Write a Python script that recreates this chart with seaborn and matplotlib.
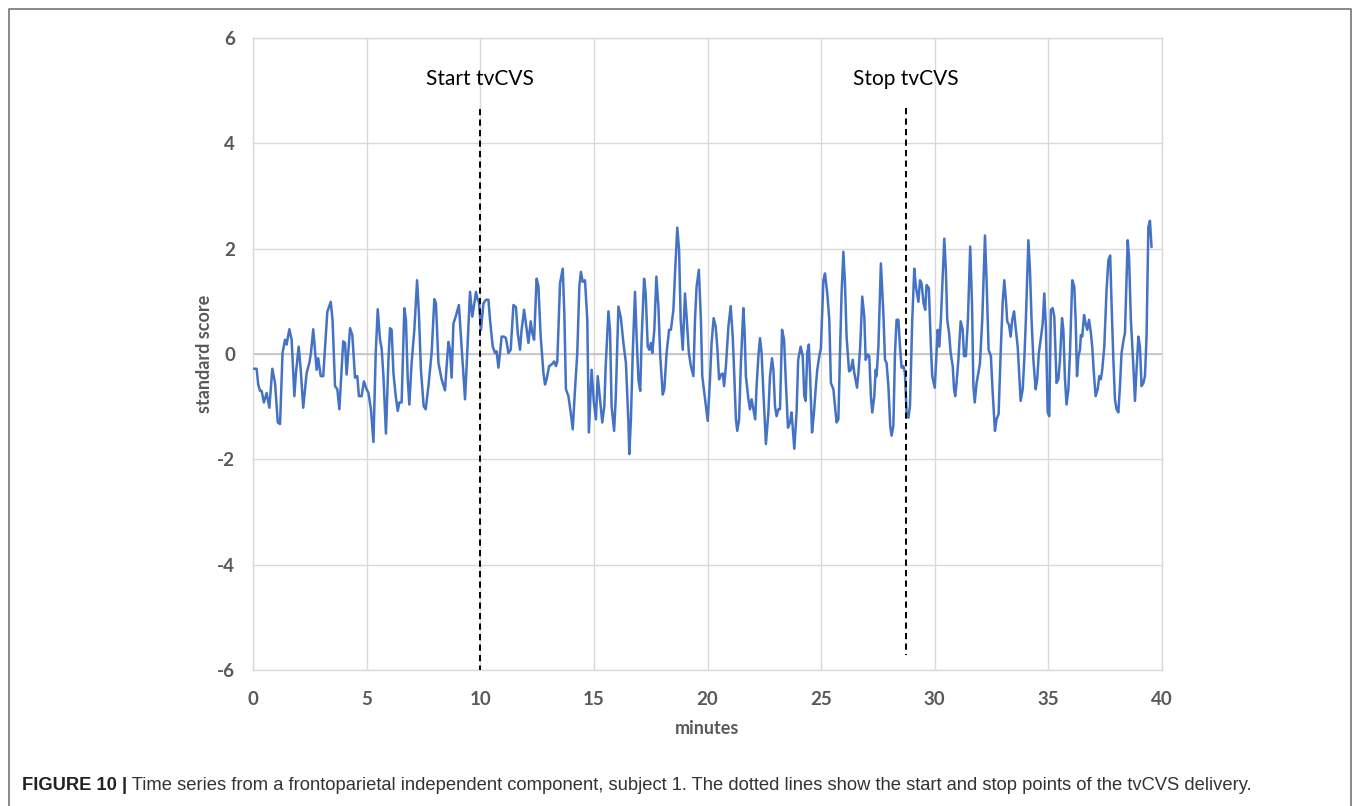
import matplotlib
matplotlib.use("Agg")
import matplotlib.pyplot as plt
from matplotlib.lines import Line2D
import numpy as np
import pandas as pd
import seaborn as sns

# Time series of the frontoparietal independent component (subject 1)
minutes = [
    0.04, 0.16, 0.23, 0.31, 0.38, 0.48, 0.60, 0.72, 0.85, 0.97, 1.09, 1.19, 1.30, 1.41, 1.48, 1.60,
    1.70, 1.82, 1.89, 2.01, 2.10, 2.21, 2.36, 2.48, 2.55, 2.65, 2.80, 2.87, 2.98, 3.09, 3.27, 3.42,
    3.50, 3.61, 3.71, 3.80, 3.97, 4.05, 4.12, 4.27, 4.37, 4.49, 4.59, 4.66, 4.78, 4.88, 5.00,
    5.08, 5.19, 5.30, 5.40, 5.49, 5.59, 5.66, 5.74, 5.85, 5.96, 6.03, 6.10, 6.18, 6.28, 6.37, 6.44,
    6.54, 6.66, 6.73, 6.81, 6.88, 6.98, 7.10, 7.22, 7.30, 7.39, 7.51, 7.60, 7.72, 7.86, 7.98, 8.05,
    8.16, 8.30, 8.45, 8.52, 8.60, 8.67, 8.74, 8.82, 8.92, 9.06, 9.18, 9.33, 9.40, 9.55, 9.65, 9.74,
    9.81, 9.89, 9.94, 10.03, 10.14,
    10.25, 10.36, 10.43, 10.55, 10.65, 10.72, 10.80, 10.87, 10.94, 11.05, 11.13, 11.24, 11.34, 11.46,
    11.57, 11.65, 11.75, 11.82, 11.93, 12.01, 12.12, 12.22, 12.29, 12.37, 12.48, 12.56, 12.66, 12.78,
    12.85, 12.92, 13.03, 13.14, 13.25, 13.33, 13.39, 13.51, 13.63, 13.70, 13.77, 13.88, 13.98, 14.07,
    14.17, 14.27, 14.36, 14.43, 14.51, 14.61, 14.71, 14.78, 14.90, 15.00, 15.09,
    15.17, 15.27, 15.37, 15.46, 15.52, 15.64, 15.71, 15.78, 15.89, 15.96, 16.08, 16.19, 16.30, 16.41,
    16.52, 16.56, 16.63, 16.71, 16.81, 16.88, 16.96, 17.04, 17.10, 17.21, 17.28, 17.37, 17.44, 17.51,
    17.57, 17.66, 17.75, 17.84, 17.92, 18.03, 18.10, 18.20, 18.31, 18.39, 18.50, 18.57, 18.67, 18.75,
    18.82, 18.91, 19.01, 19.08, 19.18, 19.27, 19.38, 19.45, 19.52, 19.62, 19.71, 19.77, 19.86, 19.93,
    20.01, 20.11, 20.18, 20.27,
    20.36, 20.43, 20.51, 20.59, 20.67, 20.73, 20.81, 20.92, 21.02, 21.11, 21.18, 21.25, 21.31, 21.39,
    21.47, 21.58, 21.63, 21.69, 21.80, 21.87, 21.94, 22.02, 22.10, 22.16, 22.24, 22.31, 22.38, 22.46,
    22.57, 22.68, 22.75, 22.84, 22.90, 22.97, 23.04, 23.12, 23.19, 23.28, 23.37, 23.45, 23.54, 23.63,
    23.70, 23.82, 23.92, 23.99, 24.10, 24.19, 24.26, 24.32, 24.39, 24.46, 24.51, 24.60, 24.68, 24.77,
    24.83, 24.92, 24.99, 25.10, 25.17, 25.27,
    25.36, 25.43, 25.54, 25.61, 25.68, 25.76, 25.83, 25.90, 25.98, 26.05, 26.12, 26.23, 26.31, 26.39,
    26.46, 26.58, 26.64, 26.72, 26.81, 26.90, 26.96, 27.05, 27.12, 27.19, 27.25, 27.34, 27.40, 27.44,
    27.52, 27.63, 27.74, 27.81, 27.88, 27.96, 28.04, 28.10, 28.18, 28.25, 28.32, 28.40, 28.47, 28.54,
    28.62, 28.69, 28.76, 28.84, 28.91, 29.01, 29.10, 29.17, 29.28, 29.35, 29.42, 29.51, 29.58, 29.64,
    29.74, 29.83, 29.89, 30.00, 30.13, 30.20, 30.27,
    30.42, 30.49, 30.55, 30.63, 30.70, 30.79, 30.85, 30.90, 30.96, 31.04, 31.14, 31.23, 31.29, 31.37,
    31.46, 31.56, 31.64, 31.70, 31.76, 31.84, 31.92, 31.99, 32.09, 32.21, 32.28, 32.37, 32.47, 32.55,
    32.65, 32.72, 32.81, 32.90, 32.99, 33.06, 33.13, 33.19, 33.27, 33.34, 33.41, 33.49, 33.57, 33.65,
    33.72, 33.78, 33.87, 33.94, 34.01, 34.12, 34.19, 34.26, 34.34, 34.44, 34.51, 34.58, 34.66, 34.75,
    34.82, 34.89, 34.97, 35.04, 35.11, 35.19, 35.26,
    35.36, 35.44, 35.51, 35.60, 35.66, 35.73, 35.80, 35.88, 35.95, 36.05, 36.14, 36.20, 36.26, 36.32,
    36.39, 36.43, 36.49, 36.57, 36.64, 36.71, 36.79, 36.87, 36.93, 37.01, 37.08, 37.17, 37.24, 37.31,
    37.37, 37.46, 37.56, 37.64, 37.72, 37.78, 37.86, 37.93, 38.00, 38.08, 38.15, 38.22, 38.31, 38.37,
    38.43, 38.49, 38.55, 38.63, 38.74, 38.81, 38.88, 38.96, 39.03, 39.10, 39.18, 39.25, 39.32, 39.40,
    39.47, 39.54,
]
score = [
    -0.28, -0.28, -0.58, -0.70, -0.70, -0.92, -0.74, -1.02, -0.28, -0.55, -1.30, -1.33, 0.02, 0.27, 0.18, 0.47,
    0.27, -0.80, -0.36, 0.14, -0.30, -1.02, -0.36, -0.17, 0.02, 0.47, -0.30, -0.08, -0.42, -0.42, 0.80, 0.99,
    0.65, -0.61, -0.67, -1.05, 0.24, 0.21, -0.39, 0.49, 0.36, -0.45, -0.42, -0.80, -0.80, -0.52, -0.67,
    -0.74, -1.05, -1.67, 0.02, 0.85, 0.27, 0.11, -0.42, -1.51, -0.11, 0.49, 0.46, -0.36, -0.80, -1.08, -0.92,
    -0.92, 0.87, 0.65, -0.48, -0.96, -0.17, 0.46, 1.40, 0.77, -0.30, -0.99, -1.05, -0.61, 0.02, 1.04, 0.96,
    -0.17, -0.48, -0.69, -0.23, 0.23, 0.08, -0.45, 0.58, 0.71, 0.93, 0.14, -0.86, -0.23, 1.18, 0.71, 0.96,
    1.18, 1.03, 0.99, 0.46, 0.96,
    1.03, 1.03, 0.65, 0.14, 0.02, 0.05, -0.26, 0.02, 0.33, 0.33, 0.30, 0.02, 0.08, 0.93,
    0.89, 0.40, 0.08, 0.46, 0.84, 0.58, 0.21, 0.62, 0.40, 0.27, 1.43, 1.28, 0.33, -0.36,
    -0.58, -0.48, -0.23, -0.20, -0.14, -0.23, -0.14, 1.34, 1.62, 0.77, -0.67, -0.80, -1.11, -1.43,
    -0.67, 0.02, 1.28, 1.56, 1.37, 1.40, 0.65, -1.49, -0.30, -0.92, -1.24,
    -0.42, -0.86, -1.30, -0.99, -0.23, 0.81, 0.46, -0.99, -1.46, -0.86, 0.90, 0.68, 0.21, -0.17,
    -1.30, -1.90, -1.24, 0.02, 1.18, 0.33, -0.48, -0.70, 0.27, 1.43, 1.15, 0.14, 0.08, 0.21,
    0.02, 0.46, 1.47, 0.90, -0.04, -0.77, -0.67, 0.02, 0.46, 0.46, 0.84, 1.53, 2.40, 1.97,
    0.65, 0.08, 1.15, 0.71, 0.02, -0.23, -0.42, 0.65, 1.28, 1.60, 0.65, -0.42, -0.74, -0.99,
    -1.27, -0.48, 0.21, 0.68,
    0.52, 0.14, -0.48, -0.39, -0.37, -0.61, -0.23, 0.52, 0.91, 0.33, -0.42, -1.24, -1.46, -1.24,
    -0.17, 0.87, 0.46, -0.42, -0.86, -1.05, -0.86, -1.05, -1.24, -0.61, -0.04, 0.30, 0.02, -0.74,
    -1.71, -1.11, -0.42, -0.08, -0.30, -0.99, -1.18, -1.05, -1.05, 0.46, 0.27, -0.55, -1.40, -1.30,
    -1.11, -1.80, -1.11, -0.11, 0.14, -0.04, -0.80, -0.89, 0.02, 0.18, -0.36, -1.49, -1.14, -0.61,
    -0.30, -0.04, 0.11, 1.40, 1.53, 1.15,
    0.65, -0.55, -0.67, -0.99, -1.30, -1.24, 0.02, 1.15, 1.94, 1.34, 0.33, -0.33, -0.30, -0.11,
    -0.36, -0.64, -0.36, 0.14, 1.09, 0.71, -0.11, -0.01, -0.04, -0.80, -1.11, -0.80, -0.30, -0.42,
    0.14, 1.72, 0.77, -0.11, -0.17, -0.61, -1.36, -1.55, -1.36, 0.02, 0.65, 0.65, 0.14, -0.26,
    -0.23, -0.36, -1.11, -1.21, -0.99, 0.65, 1.62, 1.28, 0.99, 1.40, 1.34, 0.96, 0.84, 1.31,
    1.25, 0.14, -0.42, -0.64, 0.46, 0.14, 0.65,
    2.19, 1.59, 0.65, 0.40, 0.02, -0.23, -0.67, -0.80, -0.55, -0.11, 0.62, 0.46, -0.04, -0.04,
    0.65, 2.04, 0.96, -0.61, -0.92, -0.55, -0.36, -0.17, 0.65, 2.25, 1.40, 0.08, -0.04, -0.74,
    -1.46, -1.24, -1.14, 0.02, 0.99, 1.40, 1.03, 0.62, 0.55, 0.33, 0.65, 0.81, 0.46, 0.14,
    -0.42, -0.89, -0.67, -0.11, 0.65, 2.16, 1.59, 0.65, -0.11, -0.67, -0.48, 0.02, 0.27, 0.58,
    1.15, 0.52, -1.11, -1.18, 0.84, 0.87, 0.71,
    -0.55, -0.48, -0.11, 0.68, 0.46, -0.48, -0.96, -0.67, 0.02, 1.40, 1.28, 0.65, -0.42, -0.05,
    0.08, 0.36, 0.33, 0.74, 0.58, 0.46, 0.65, 0.40, 0.14, -0.42, -0.80, -0.67, -0.42, -0.48,
    -0.30, 0.14, 1.21, 1.78, 1.87, 0.96, -0.11, -0.86, -1.05, -1.11, -0.61, 0.02, 0.27, 0.40,
    1.28, 2.16, 1.84, 0.65, -0.23, -0.89, -0.30, 0.33, 0.14, -0.61, -0.55, -0.42, 0.33, 2.41,
    2.53, 2.03,
]

x_ticks = [0, 5, 10, 15, 20, 25, 30, 35, 40]
y_ticks = [-6, -4, -2, 0, 2, 4, 6]

# Stimulation markers: label, time (min), dashed line top and bottom (standard score)
marker_labels = ["Start tvCVS", "Stop tvCVS"]
marker_times = [10.0, 28.72]
marker_tops = [4.65, 4.67]
marker_bottoms = [-6.0, -5.72]
marker_label_y = 5.22

caption_bold = "FIGURE 10 |"
caption_rest = (" Time series from a frontoparietal independent component, subject 1. "
                "The dotted lines show the start and stop points of the tvCVS delivery.")

sns.set_theme(style="white")
plt.rcParams["font.family"] = ["Lato", "DejaVu Sans"]
plt.rcParams["axes.unicode_minus"] = False

W, H = 1357, 806
fig = plt.figure(figsize=(W / 100, H / 100), dpi=100)
fig.patch.set_facecolor("white")
ax = fig.add_axes([253 / W, 1 - 670 / H, (1162 - 253) / W, (670 - 38) / H])

df = pd.DataFrame({"minutes": minutes, "standard score": score})
sns.lineplot(data=df, x="minutes", y="standard score", ax=ax, color="#4472C4",
             linewidth=1.8, sort=False, estimator=None, zorder=3)

ax.set_xlim(0, 40)
ax.set_ylim(-6, 6)
ax.set_xticks(x_ticks)
ax.set_yticks(y_ticks)
ax.grid(True, color="#d9d9d9", linewidth=1.0, zorder=0)
ax.axhline(0, color="#bfbfbf", linewidth=1.1, zorder=1)
for s in ax.spines.values():
    s.set_color("#d9d9d9")
    s.set_linewidth(1.0)

ax.tick_params(axis="both", length=0, labelsize=13.5, labelcolor="#595959")
ax.tick_params(axis="y", pad=13)
ax.tick_params(axis="x", pad=15)
for lbl in ax.get_xticklabels() + ax.get_yticklabels():
    lbl.set_fontweight("bold")

ax.set_xlabel("minutes", fontsize=13, fontweight="bold", color="#595959", labelpad=9)
ax.set_ylabel("standard score", fontsize=13, fontweight="bold", color="#595959", labelpad=3)

for lab, t, top, bot in zip(marker_labels, marker_times, marker_tops, marker_bottoms):
    ax.plot([t, t], [top, bot], color="black", linewidth=1.4,
            linestyle=(0, (3.2, 2.2)), zorder=4)
    ax.text(t, marker_label_y, lab, ha="center", va="center", fontsize=15,
            color="black", zorder=5)

# Border around the figure panel
x0, x1, y1 = 8.5 / W, 1351 / W, 1 - 8.5 / H
fig.add_artist(Line2D([x0, x0, x1, x1], [-0.01, y1, y1, -0.01],
                      transform=fig.transFigure, color="#808080", linewidth=1.3))

# Caption: bold figure number followed by the description
cap_y = 1 - 785 / H
t1 = fig.text(22 / W, cap_y, caption_bold, fontsize=13.25, fontweight="bold",
              family=["Liberation Sans", "DejaVu Sans"], color="#222222", va="center")
fig.canvas.draw()
bb = t1.get_window_extent(renderer=fig.canvas.get_renderer())
fig.text(bb.x1 / W, cap_y, caption_rest, fontsize=13.25,
         family=["Liberation Sans", "DejaVu Sans"], color="#333333", va="center")

fig.savefig("out.png", dpi=100, facecolor="white")
